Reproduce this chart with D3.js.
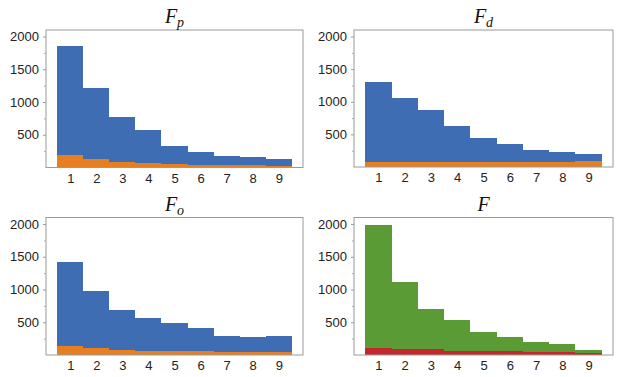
<!DOCTYPE html>
<html><head><meta charset="utf-8">
<script src="https://cdn.jsdelivr.net/npm/d3@7"></script>
<style>body{margin:0;background:#fff}</style>
</head><body>
<svg id="c" width="620" height="377"></svg>
<script>
const categories = [1,2,3,4,5,6,7,8,9];
const yTicks = [500,1000,1500,2000];
const Fp_total = [1855,1215,770,580,332,242,175,163,127];
const Fp_part  = [192,132,88,66,50,45,32,38,30];
const Fd_total = [1310,1060,880,630,450,345,255,232,195];
const Fd_part  = [70,70,80,75,70,70,70,75,95];
const Fo_total = [1415,975,685,568,492,410,297,275,297];
const Fo_part  = [130,105,80,67,57,57,42,40,52];
const F_total  = [1993,1112,703,535,347,272,195,170,78];
const F_part   = [103,98,88,62,60,55,45,40,35];

const panels = [
  {title:"F", sub:"p", total:Fp_total, part:Fp_part, x0:46, x1:303, y0:30, y1:167.5, c1:"#3e6db4", c2:"#e67e22"},
  {title:"F", sub:"d", total:Fd_total, part:Fd_part, x0:354, x1:613, y0:30, y1:167, c1:"#3e6db4", c2:"#e67e22"},
  {title:"F", sub:"o", total:Fo_total, part:Fo_part, x0:46, x1:303, y0:217.5, y1:355, c1:"#3e6db4", c2:"#e67e22"},
  {title:"F", sub:"", total:F_total, part:F_part, x0:354, x1:613, y0:217.5, y1:355, c1:"#5b9b35", c2:"#c1272d"}
];

const svg = d3.select("#c");
panels.forEach(p => {
  const g = svg.append("g");
  const x = d3.scaleLinear().domain([0.07, 9.93]).range([p.x0, p.x1]);
  const y = d3.scaleLinear().domain([0, 2100]).range([p.y1, p.y0]);
  const data = categories.map((c,i)=>({c, t:p.total[i], s:p.part[i]}));
  g.selectAll(".b1").data(data).join("rect")
    .attr("x", d=>x(d.c-0.5)).attr("width", d=>x(d.c+0.5)-x(d.c-0.5))
    .attr("y", d=>y(d.t)).attr("height", d=>y(0)-y(d.t)).attr("fill", p.c1)
    .attr("shape-rendering","crispEdges");
  g.selectAll(".b2").data(data).join("rect")
    .attr("x", d=>x(d.c-0.5)).attr("width", d=>x(d.c+0.5)-x(d.c-0.5))
    .attr("y", d=>y(d.s)).attr("height", d=>y(0)-y(d.s)).attr("fill", p.c2)
    .attr("shape-rendering","crispEdges");
  // frame
  g.append("rect").attr("x", p.x0).attr("y", p.y0).attr("width", p.x1-p.x0).attr("height", p.y1-p.y0)
    .attr("fill","none").attr("stroke","#9a9a9a").attr("stroke-width",1);
  // y axis
  const ya = d3.axisLeft(y).tickValues(yTicks).tickSize(3).tickPadding(4).tickFormat(d3.format("d"));
  const ag = g.append("g").attr("transform", `translate(${p.x0},0)`).call(ya);
  ag.select(".domain").remove();
  ag.selectAll("line").attr("stroke","#9a9a9a");
  ag.selectAll("text").attr("font-family","Liberation Sans, Arial, sans-serif").attr("font-size",13).attr("fill","#222");
  const minor = d3.axisLeft(y).tickValues([250,750,1250,1750]).tickSize(2).tickFormat("");
  const mg = g.append("g").attr("transform", `translate(${p.x0},0)`).call(minor);
  mg.select(".domain").remove();
  mg.selectAll("line").attr("stroke","#aaa");
  // x axis
  const xa = d3.axisBottom(x).tickValues(categories).tickSize(0).tickPadding(6).tickFormat(d3.format("d"));
  const xg = g.append("g").attr("transform", `translate(0,${p.y1})`).call(xa);
  xg.select(".domain").remove();
  xg.selectAll("text").attr("font-family","Liberation Sans, Arial, sans-serif").attr("font-size",13).attr("fill","#222");
  // title
  const t = g.append("text").attr("x", (p.x0+p.x1)/2).attr("y", p.y0-7)
    .attr("text-anchor","middle").attr("font-family","Liberation Serif, Times New Roman, serif")
    .attr("font-style","italic").attr("font-size",20).attr("fill","#111");
  t.append("tspan").text(p.title);
  if (p.sub) t.append("tspan").attr("font-size",14).attr("dy",4).text(p.sub);
});
</script>
</body></html>
